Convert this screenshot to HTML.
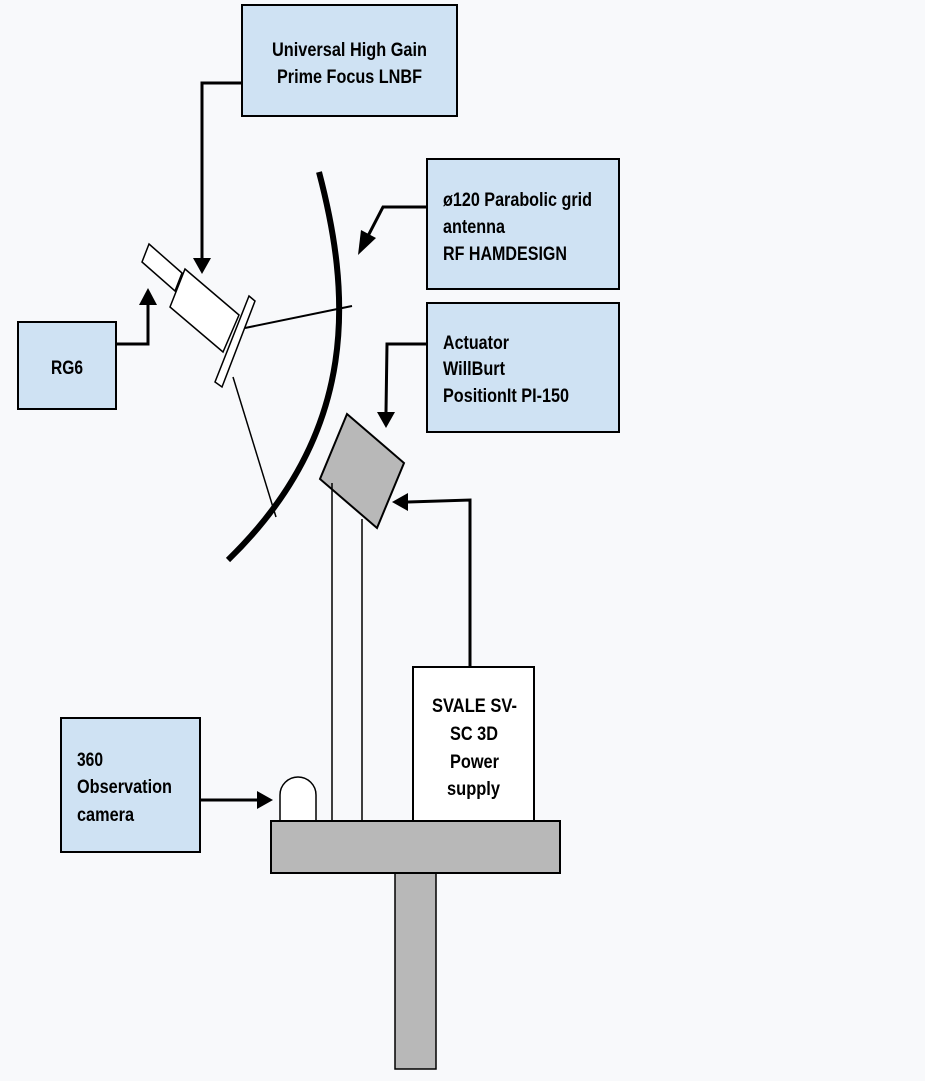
<!DOCTYPE html>
<html><head><meta charset="utf-8"><style>
html,body{margin:0;padding:0;background:#f8f9fb;}
svg{display:block}
text{font-family:"Liberation Sans",sans-serif;font-size:19px;fill:#000;}
</style></head><body>
<svg width="925" height="1081" viewBox="0 0 925 1081" xmlns="http://www.w3.org/2000/svg">
<rect width="925" height="1081" fill="#f8f9fb"/>

<!-- boxes -->
<g fill="#cfe2f3" stroke="#000" stroke-width="2">
<rect x="242" y="5" width="215" height="111"/>
<rect x="427" y="159" width="192" height="130"/>
<rect x="427" y="303" width="192" height="129"/>
<rect x="18" y="322" width="98" height="87"/>
<rect x="61" y="718" width="139" height="134"/>
</g>
<g font-weight="bold" lengthAdjust="spacingAndGlyphs">
<text x="272" y="56" textLength="155" lengthAdjust="spacingAndGlyphs">Universal High Gain</text>
<text x="277" y="83" textLength="145" lengthAdjust="spacingAndGlyphs">Prime Focus LNBF</text>
<text x="443" y="206" textLength="149" lengthAdjust="spacingAndGlyphs">ø120 Parabolic grid</text>
<text x="443" y="233" textLength="62" lengthAdjust="spacingAndGlyphs">antenna</text>
<text x="443" y="260" textLength="124" lengthAdjust="spacingAndGlyphs">RF HAMDESIGN</text>
<text x="443" y="349" textLength="66" lengthAdjust="spacingAndGlyphs">Actuator</text>
<text x="443" y="375" textLength="62" lengthAdjust="spacingAndGlyphs">WillBurt</text>
<text x="443" y="402" textLength="126" lengthAdjust="spacingAndGlyphs">PositionIt PI-150</text>
<text x="51" y="374" textLength="32" lengthAdjust="spacingAndGlyphs">RG6</text>
<text x="77" y="766" textLength="26" lengthAdjust="spacingAndGlyphs">360</text>
<text x="77" y="793" textLength="95" lengthAdjust="spacingAndGlyphs">Observation</text>
<text x="77" y="821" textLength="57" lengthAdjust="spacingAndGlyphs">camera</text>
</g>

<!-- connectors -->
<g fill="none" stroke="#000" stroke-width="3">
<polyline points="242,83 202,83 202,258"/>
<polyline points="427,207 383,207 368,236"/>
<polyline points="427,344 387,344 386,412"/>
<polyline points="116,344 148,344 148,305"/>
<line x1="200" y1="800" x2="258" y2="800"/>
<polyline points="470,667 470,500 408,502"/>
</g>
<g fill="#000">
<path d="M193,258 L211,258 L202,274 z"/>
<path d="M361,230 L376,238 L358,255 z"/>
<path d="M377,412 L395,412 L386,428 z"/>
<path d="M139,305 L157,305 L148,288 z"/>
<path d="M257,791 L257,809 L273,800 z"/>
<path d="M408,493 L408,511 L392,502 z"/>
</g>

<!-- dish -->
<path d="M319,172 C350,290 362,430 228,560" fill="none" stroke="#000" stroke-width="6"/>
<line x1="245" y1="328" x2="352" y2="306" stroke="#000" stroke-width="2"/>
<line x1="233" y1="377" x2="276" y2="517" stroke="#000" stroke-width="1.5"/>
<g fill="#fff" stroke="#000" stroke-width="1.5">
<polygon points="149,244 182,273 175,291 142,262"/>
<polygon points="185,269 239,315 223,352 170,307"/>
<polygon points="249,296 255,301 222,387 215,382"/>
</g>

<!-- actuator -->
<polygon points="347,414 404,463 377,528 320,479" fill="#b8b8b8" stroke="#000" stroke-width="2"/>
<line x1="332" y1="483" x2="332" y2="821" stroke="#000" stroke-width="1.5"/>
<line x1="362" y1="519" x2="362" y2="821" stroke="#000" stroke-width="1.5"/>

<!-- power supply -->
<rect x="413" y="667" width="121" height="154" fill="#fff" stroke="#000" stroke-width="2"/>
<g font-weight="bold">
<text x="432" y="712" textLength="85" lengthAdjust="spacingAndGlyphs">SVALE SV-</text>
<text x="450" y="740" textLength="48" lengthAdjust="spacingAndGlyphs">SC 3D</text>
<text x="450" y="768" textLength="49" lengthAdjust="spacingAndGlyphs">Power</text>
<text x="447" y="795" textLength="53" lengthAdjust="spacingAndGlyphs">supply</text>
</g>

<!-- camera dome -->
<path d="M280,821 L280,795 A18,18 0 0 1 316,795 L316,821" fill="#fff" stroke="#000" stroke-width="1.5"/>

<!-- base -->
<rect x="395" y="873" width="41" height="196" fill="#b8b8b8" stroke="#000" stroke-width="1.5"/>
<rect x="271" y="821" width="289" height="52" fill="#b8b8b8" stroke="#000" stroke-width="2"/>
</svg>
</body></html>
